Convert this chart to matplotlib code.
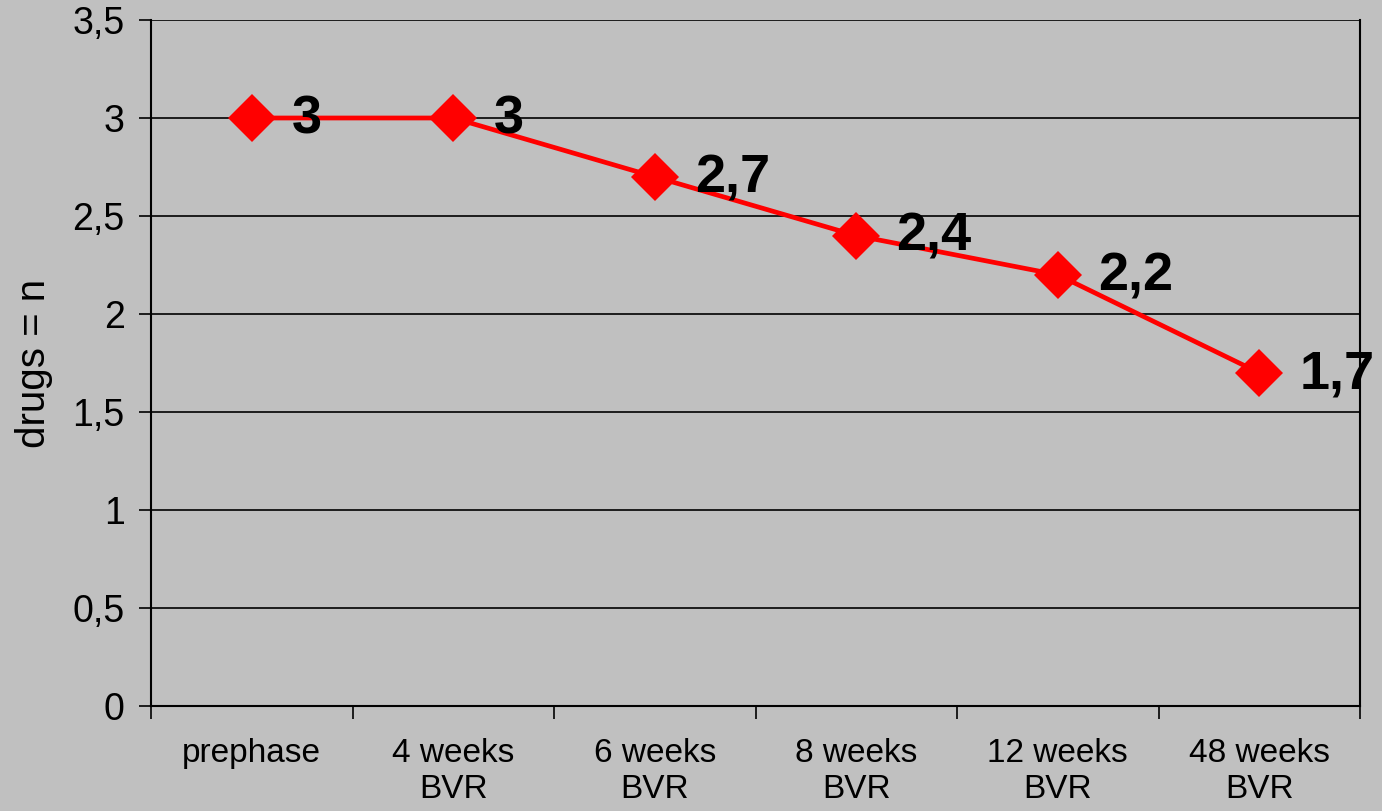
import matplotlib
matplotlib.use("Agg")
import matplotlib.pyplot as plt
from matplotlib.ticker import FixedLocator

categories = ["prephase", "4 weeks\nBVR", "6 weeks\nBVR", "8 weeks\nBVR",
              "12 weeks\nBVR", "48 weeks\nBVR"]
drugs = [3, 3, 2.7, 2.4, 2.2, 1.7]
value_labels = ["3", "3", "2,7", "2,4", "2,2", "1,7"]
yticks = [0, 0.5, 1, 1.5, 2, 2.5, 3, 3.5]

plt.rcParams['font.family'] = ['Liberation Sans', 'DejaVu Sans']
bg = "#c0c0c0"

fig = plt.figure(figsize=(13.82, 8.11), dpi=100, facecolor=bg)
ax = fig.add_axes([151 / 1382, 1 - 706 / 811, (1360 - 151) / 1382, (706 - 20) / 811])
ax.set_facecolor(bg)

x = list(range(len(categories)))
ax.plot(x, drugs, color="#ff0000", lw=3.4, marker="D", markersize=24,
        markeredgewidth=0, zorder=3)

for xi, yi, lab in zip(x, drugs, value_labels):
    ax.annotate(lab, (xi, yi), xytext=(29, -1), textcoords="offset points",
                ha="left", va="center", fontsize=39, fontweight="bold",
                color="black", zorder=4, annotation_clip=False)

ax.set_xlim(-0.5, len(categories) - 0.5)
ax.set_ylim(0, 3.5)
ax.set_yticks(yticks)
ax.set_yticklabels([("%g" % v).replace(".", ",") for v in yticks])
ax.yaxis.grid(True, color="black", lw=1.2)
ax.set_axisbelow(True)

ax.set_xticks(x)
ax.set_xticklabels(categories)
ax.xaxis.set_minor_locator(FixedLocator([i - 0.5 for i in range(len(categories) + 1)]))
ax.tick_params(axis="x", which="major", length=0, pad=23, labelsize=24)
ax.tick_params(axis="x", which="minor", length=9, width=1.2, direction="out")
ax.tick_params(axis="y", length=9, width=1.2, direction="out", pad=10, labelsize=27)

for s in ["left", "bottom", "right"]:
    ax.spines[s].set_color("black")
    ax.spines[s].set_linewidth(1.5)
ax.spines["top"].set_visible(False)

ax.set_ylabel("drugs = n", fontsize=29, labelpad=14)

fig.savefig("out.png", dpi=100, facecolor=bg)
